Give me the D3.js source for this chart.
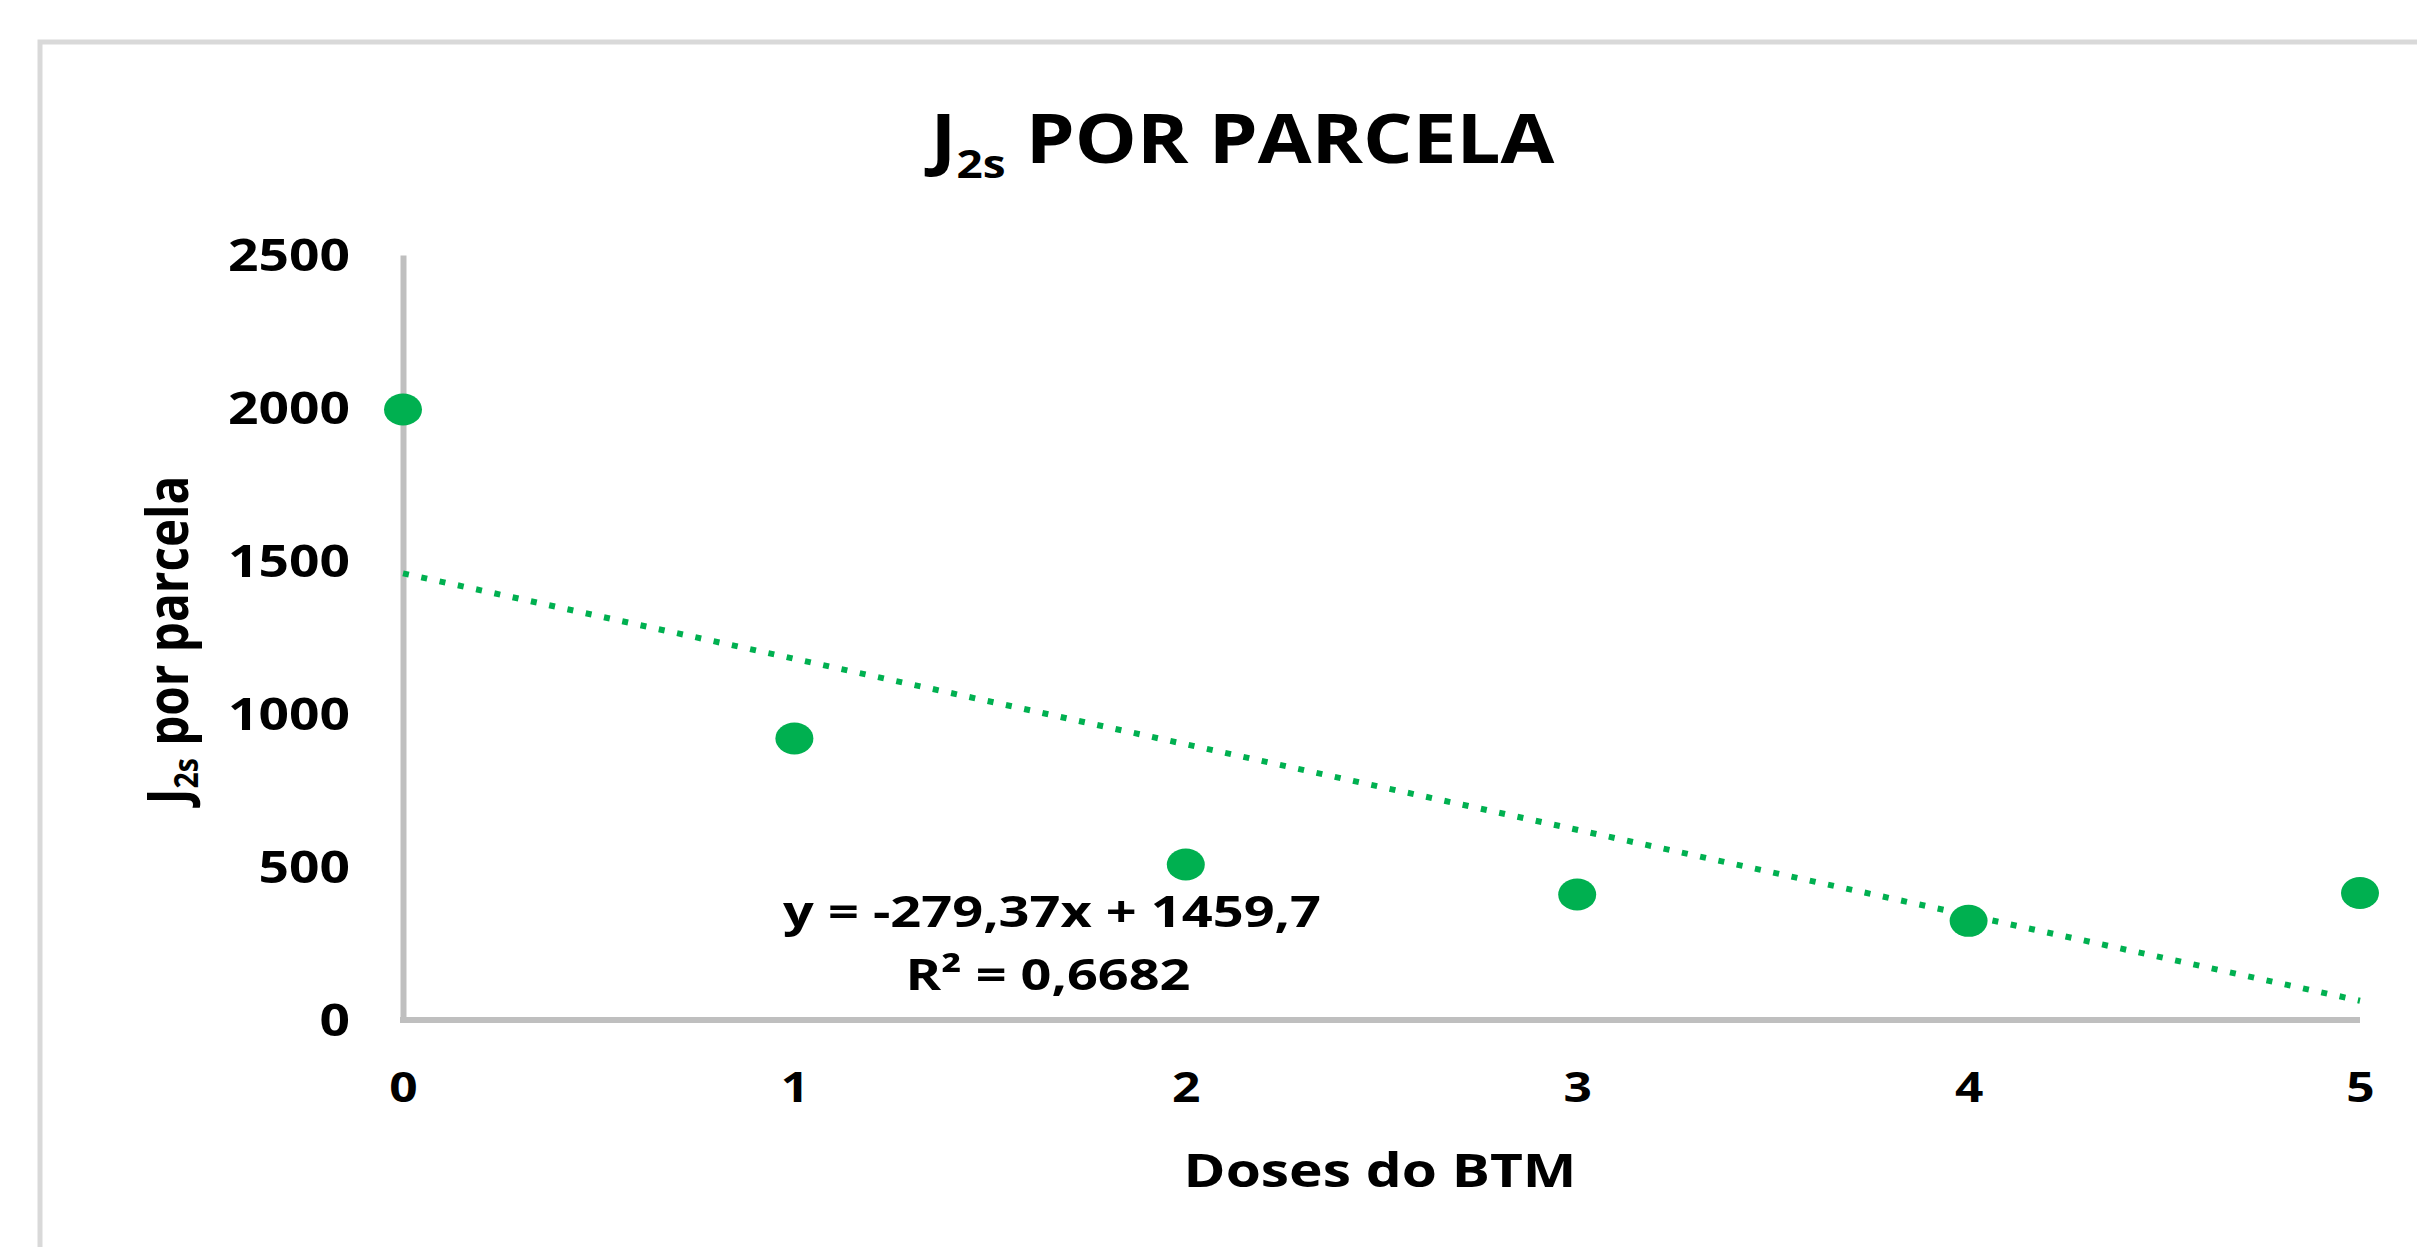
<!DOCTYPE html>
<html>
<head>
<meta charset="utf-8">
<script src="https://cdn.jsdelivr.net/npm/d3@7"></script>
<style>
  body { margin: 0; background: #fff; }
  svg text { font-family: "Open Sans", sans-serif; font-weight: 700; fill: #000; }
</style>
</head>
<body>
<svg id="chart"></svg>
<script>
// Data
var doses = [0, 1, 2, 3, 4, 5];
var j2s = [1995, 920, 508, 410, 324, 415];
var yTicks = [0, 500, 1000, 1500, 2000, 2500];
var trendCoef = [-279.37, 1459.7]; // slope, intercept
var eqLines = ["y = -279,37x + 1459,7", "R\u00b2 = 0,6682"];

var width = 2417,
    height = 1247;

var green = "#00b050",
    axisGrey = "#bfbfbf";

var svg = d3.select("#chart")
    .attr("width", width)
    .attr("height", height);

var x = d3.scaleLinear().domain([0, 5]).range([403, 2360]);
var y = d3.scaleLinear().domain([0, 2500]).range([1020, 255]);

// chart area frame (runs off the picture on right/bottom)
svg.append("rect")
    .attr("x", 40).attr("y", 42)
    .attr("width", 2600).attr("height", 1400)
    .attr("fill", "#fff")
    .attr("stroke", "#d9d9d9")
    .attr("stroke-width", 5);

// stretch a text group horizontally so it spans the wanted width
function fit(g, target, pre) {
  var w = g.select("text").node().getBBox().width;
  g.attr("transform", pre + " scale(" + (target / w) + ",1)");
}

// title
var gt = svg.append("g");
var tt = gt.append("text").attr("text-anchor", "middle").attr("font-size", 68);
tt.append("tspan").text("J");
tt.append("tspan").attr("font-size", 40).attr("dy", 15).text("2s");
tt.append("tspan").attr("dy", -15).text(" POR PARCELA");
fit(gt, 631, "translate(1242.5,163)");

// y axis
var yAxis = svg.append("g")
    .attr("transform", "translate(" + x(0) + ",0)")
    .call(d3.axisLeft(y).tickValues(yTicks).tickFormat(d3.format("d")).tickSize(0).tickSizeOuter(0));
yAxis.select(".domain").attr("stroke", axisGrey).attr("stroke-width", 6);
var ysx = 1;
yAxis.selectAll("text")
    .attr("font-size", 44)
    .attr("font-family", null)
    .each(function(d) { if (d === 2500) ysx = 122 / this.getComputedTextLength(); });
yAxis.selectAll("text")
    .attr("dy", null)
    .attr("y", 15)
    .attr("x", -53 / ysx)
    .attr("transform", "scale(" + ysx + ",1)");

// x axis
var xAxis = svg.append("g")
    .attr("transform", "translate(0," + y(0) + ")")
    .call(d3.axisBottom(x).tickValues(doses).tickFormat(d3.format("d")).tickSize(0).tickSizeOuter(0));
xAxis.select(".domain").attr("stroke", axisGrey).attr("stroke-width", 6)
    .attr("d", "M" + (x(0) - 3) + ",0H" + x(5));
xAxis.selectAll("text")
    .attr("font-size", 41)
    .attr("font-family", null)
    .attr("dy", null)
    .attr("y", 82)
    .attr("transform", "scale(" + ysx + ",1)")
    .attr("x", 0);

// axis titles
var gx = svg.append("g");
gx.append("text").attr("text-anchor", "middle").attr("font-size", 46).text("Doses do BTM");
fit(gx, 393, "translate(1380,1187)");

var gy = svg.append("g");
var ty = gy.append("text").attr("text-anchor", "middle").attr("font-size", 57);
ty.append("tspan").text("J");
ty.append("tspan").attr("font-size", 34).attr("dy", 10).text("2s");
ty.append("tspan").attr("dy", -10).text(" por parcela");
var lenY = ty.node().getBBox().width;
gy.attr("transform", "translate(188,640) rotate(-90) scale(" + (333 / lenY) + ",1)");

// linear trend
var trend = d3.line()
    .x(function(d) { return x(d); })
    .y(function(d) { return y(trendCoef[0] * d + trendCoef[1]); });
svg.append("path")
    .attr("d", trend([0, 5]))
    .attr("fill", "none")
    .attr("stroke", green)
    .attr("stroke-width", 6)
    .attr("stroke-dasharray", "6,12.7");

// points
svg.selectAll(".pt")
    .data(doses)
    .enter().append("ellipse")
      .attr("class", "pt")
      .attr("cx", function(d) { return x(d); })
      .attr("cy", function(d, i) { return y(j2s[i]); })
      .attr("rx", 19)
      .attr("ry", 16)
      .attr("fill", green);

// equation label
var eqPos = [[1052, 927, 538], [1048, 990, 285]];
eqLines.forEach(function(s, i) {
  var g = svg.append("g");
  g.append("text").attr("text-anchor", "middle").attr("font-size", 43).text(s);
  fit(g, eqPos[i][2], "translate(" + eqPos[i][0] + "," + eqPos[i][1] + ")");
});
</script>
</body>
</html>
